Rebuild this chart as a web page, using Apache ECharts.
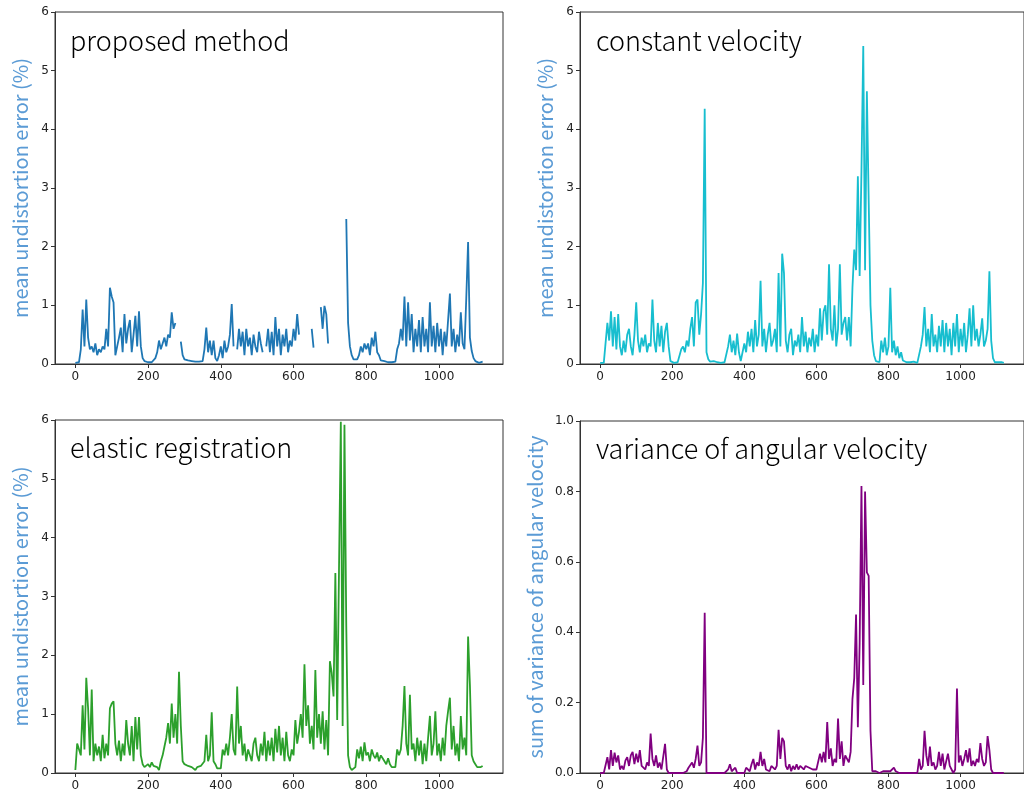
<!DOCTYPE html>
<html>
<head>
<meta charset="utf-8">
<script src="https://cdn.jsdelivr.net/npm/echarts@6/dist/echarts.min.js"></script>
<style>
  body { margin: 0; background: #fff; }
  #main { width: 1024px; height: 800px; }
</style>
</head>
<body>
<div id="main"></div>
<script>
// frame index step (one sample every 5 frames, 0..1120)
var STEP = 5;
var xTicks = [0, 200, 400, 600, 800, 1000];

var proposed = [
  0.02,0.04,0.03,0.25,0.93,0.3,1.1,0.45,0.25,0.3,0.2,0.35,0.15,0.25,0.2,0.3,0.25,0.6,0.3,1.3,
  1.15,1.05,0.15,0.3,0.45,0.62,0.2,0.85,0.35,0.6,0.75,0.2,0.5,0.82,0.3,0.9,0.3,0.1,0.05,0.03,
  0.03,0.02,0.03,0.05,0.1,0.2,0.4,0.25,0.35,0.45,0.3,0.5,0.45,0.88,0.6,0.7,null,null,0.38,0.15,
  0.08,0.05,0.06,0.04,0.05,0.03,0.04,0.03,0.04,0.03,0.05,0.25,0.62,0.2,0.4,0.15,0.4,0.1,0.05,0.15,
  0.3,0.1,0.4,0.2,0.3,0.5,1.02,0.3,null,0.25,0.6,0.3,0.55,0.15,0.6,0.3,0.45,0.15,0.5,0.3,
  0.2,0.55,0.35,0.2,null,0.3,0.6,0.2,0.55,0.15,0.8,0.3,0.6,0.15,0.5,0.3,0.6,0.2,0.4,0.3,
  0.6,0.4,0.85,0.5,null,null,null,null,null,null,0.6,0.28,null,null,null,0.97,0.6,0.99,0.85,0.35,
  null,null,null,null,null,null,null,null,null,2.47,0.7,0.3,0.15,0.08,0.05,0.08,0.15,0.3,0.2,0.35,
  0.25,0.35,0.15,0.45,0.3,0.55,0.2,0.15,0.06,0.04,0.05,0.04,0.03,0.04,0.03,0.05,0.04,0.25,0.35,0.6,
  0.4,1.15,0.3,1.05,0.4,0.85,0.2,0.6,0.3,0.75,0.2,0.8,0.3,0.6,0.2,1.05,0.3,0.65,0.2,0.7,
  0.3,0.6,0.15,0.55,0.3,0.75,1.2,0.3,0.6,0.2,0.5,0.3,0.88,0.35,0.25,1.12,2.08,0.45,0.22,0.1,
  0.05,0.03,0.02,0.03,0.04
];

var constantVelocity = [
  0.02,0.03,0.02,0.03,0.7,0.4,0.9,0.3,0.8,0.25,0.85,0.3,0.15,0.4,0.2,0.5,0.6,0.3,0.15,0.5,
  1.05,0.4,0.2,0.45,0.3,0.5,0.2,0.35,0.3,1.1,0.4,0.2,0.7,0.3,0.65,0.2,0.55,0.7,0.3,0.05,
  0.03,0.02,0.04,0.03,0.05,0.25,0.3,0.2,0.4,0.3,0.6,0.8,0.3,1.05,1.1,0.5,0.85,1.38,4.35,0.2,
  0.08,0.04,0.03,0.05,0.02,0.03,0.04,0.02,0.05,0.03,0.04,0.3,0.5,0.2,0.4,0.15,0.52,0.2,0.05,0.04,
  0.35,0.2,0.55,0.3,0.6,0.2,0.75,0.3,0.5,1.42,0.3,0.6,0.2,0.5,0.7,0.3,0.4,0.6,0.2,1.55,
  0.3,1.88,1.55,0.4,0.2,0.5,0.6,0.15,0.4,0.3,0.5,0.2,0.8,0.3,0.55,0.2,0.45,0.3,0.6,0.2,
  0.5,0.3,0.95,0.4,0.9,1.0,0.5,1.7,0.6,0.4,1.0,0.3,0.6,1.7,0.5,0.7,0.8,0.4,0.8,0.3,
  1.3,1.95,1.6,3.2,1.5,3.3,5.42,1.6,4.65,2.8,1.0,0.4,0.15,0.05,0.02,0.03,0.4,0.2,0.45,0.15,
  0.3,1.3,0.2,0.4,0.15,0.3,0.1,0.2,0.06,0.04,0.03,0.05,0.03,0.02,0.04,0.03,0.02,0.05,0.3,0.5,
  0.97,0.3,0.6,0.2,0.85,0.3,0.5,0.2,0.65,0.3,0.75,0.2,0.7,0.3,0.6,0.15,0.7,0.3,0.85,0.2,
  0.6,0.3,0.7,0.2,0.5,0.95,0.3,1.0,0.4,0.6,0.3,0.5,0.78,0.3,0.4,0.6,1.58,0.4,0.1,0.03,
  0.02,0.03,0.02,0.03,0.02
];

var elasticRegistration = [
  0.05,0.5,0.5,0.3,1.15,0.4,1.62,1.1,0.3,1.42,0.2,0.5,0.3,0.45,0.2,0.65,0.25,0.5,0.3,1.1,
  1.18,1.22,0.5,0.3,0.55,0.2,0.5,0.3,0.9,0.5,0.3,0.8,0.2,0.95,0.4,0.95,0.3,0.15,0.1,0.12,
  0.15,0.1,0.18,0.12,0.15,0.1,0.05,0.2,0.3,0.45,0.6,0.85,0.5,1.18,0.6,1.0,0.5,1.72,0.8,0.2,
  0.15,0.18,0.12,0.15,0.1,0.12,0.05,0.1,0.08,0.12,0.1,0.2,0.65,0.2,0.3,1.03,0.2,0.15,0.08,0.1,
  0.08,0.4,0.3,0.5,0.3,0.6,1.0,0.4,0.3,1.47,0.5,0.8,0.3,0.5,0.2,0.4,0.3,0.2,0.5,0.6,
  0.3,0.2,0.5,0.3,0.7,0.2,0.55,0.3,0.6,0.2,0.75,0.35,0.8,0.3,0.6,0.2,0.7,0.3,0.2,0.4,
  0.3,0.9,0.5,0.7,1.0,0.6,1.85,0.8,1.15,0.5,0.8,0.4,1.75,0.6,1.0,0.5,1.05,0.4,0.9,0.3,
  1.9,1.7,1.3,3.4,0.9,3.45,5.97,0.8,5.92,2.5,0.3,0.1,0.05,0.05,0.1,0.4,0.25,0.45,0.2,0.52,
  0.3,0.35,0.2,0.4,0.3,0.25,0.35,0.2,0.3,0.25,0.2,0.15,0.25,0.15,0.1,0.12,0.1,0.4,0.3,0.4,
  0.8,1.48,0.5,0.3,1.33,0.4,0.5,0.2,0.6,0.3,0.55,0.15,0.5,0.2,0.6,0.97,0.3,0.5,1.05,0.3,
  0.5,0.2,0.6,0.3,0.8,1.05,1.28,0.4,0.8,0.3,0.5,0.2,0.97,0.4,0.6,0.3,2.32,1.5,0.3,0.2,
  0.15,0.1,0.08,0.1,0.12
];

var angularVariance = [
  0,0,0,0,0.045,0.01,0.065,0.02,0.058,0.03,0.05,0.01,0.02,0.01,0.035,0.045,0.02,0.05,0.06,0.025,
  0.055,0.03,0.065,0.02,0.015,0.01,0.03,0.02,0.112,0.04,0.02,0.05,0.015,0.03,0.01,0.015,0.083,0.01,0,0,
  0,0,0,0,0,0,0,0,0.005,0.015,0.01,0.03,0.015,0.04,0.078,0.02,0.03,0.1,0.455,0,
  0,0,0,0,0,0,0,0,0,0,0,0.01,0.025,0.005,0,0.015,0,0,0,0,
  0,0.015,0.01,0.005,0.025,0.04,0.01,0.03,0.02,0.06,0.02,0.04,0.01,0.015,0.005,0.02,0.015,0.01,0.02,0.123,
  0.04,0.1,0.09,0.02,0.01,0.025,0.005,0.02,0.01,0.025,0.01,0.02,0.025,0.01,0.02,0.025,0.015,0.02,0.01,0.005,
  0.01,0.005,0.055,0.03,0.06,0.03,0.145,0.04,0.07,0.02,0.04,0.03,0.155,0.04,0.09,0.02,0.05,0.04,0.03,0.06,
  0.21,0.27,0.45,0.13,0.37,0.815,0.25,0.8,0.57,0.56,0.12,0.005,0,0.005,0,0,0,0.005,0,0.005,
  0.008,0.005,0,0.015,0.005,0,0,0,0,0,0,0,0,0,0,0,0,0.04,0.01,0.02,
  0.12,0.05,0.02,0.075,0.02,0.03,0.01,0.02,0.06,0.02,0.055,0.01,0.005,0.055,0.02,0.01,0,0.01,0.24,0.03,
  0.05,0.02,0.04,0.065,0.03,0.07,0.02,0.035,0.02,0.04,0.03,0.085,0.04,0.02,0.03,0.105,0.065,0.01,0,0,
  0,0,0,0,0
];

var panels = [
  { title: 'proposed method', data: proposed, color: '#1f77b4', yName: 'mean undistortion error (%)', yMax: 6, yStep: 1 },
  { title: 'constant velocity', data: constantVelocity, color: '#17becf', yName: 'mean undistortion error (%)', yMax: 6, yStep: 1 },
  { title: 'elastic registration', data: elasticRegistration, color: '#2ca02c', yName: 'mean undistortion error (%)', yMax: 6, yStep: 1 },
  { title: 'variance of angular velocity', data: angularVariance, color: '#800080', yName: 'sum of variance of angular velocity', yMax: 1, yStep: 0.2 }
];

var boxes = [
  { left: 55, top: 12, width: 448, height: 352 },
  { left: 580, top: 12, width: 448, height: 352 },
  { left: 55, top: 420, width: 448, height: 353 },
  { left: 580, top: 421, width: 448, height: 352 }
];

function toPoints(vals) {
  return vals.map(function (v, i) { return [i * STEP, v]; });
}

var grids = [], xAxes = [], yAxes = [], series = [], texts = [];
panels.forEach(function (p, i) {
  var b = boxes[i];
  grids.push({
    left: b.left, top: b.top, width: b.width, height: b.height,
    show: true, borderColor: '#333', borderWidth: 1, backgroundColor: 'transparent'
  });
  xAxes.push({
    type: 'value', gridIndex: i, min: -56, max: 1176,
    axisLine: { onZero: false, lineStyle: { color: '#333' } },
    axisTick: { show: true, length: 4, customValues: xTicks, lineStyle: { color: '#333' } },
    axisLabel: {
      customValues: xTicks, color: '#222', fontSize: 12, fontFamily: 'DejaVu Sans', margin: 7,
      formatter: function (v) { return String(v); }
    },
    splitLine: { show: false }
  });
  yAxes.push({
    type: 'value', gridIndex: i, min: 0, max: p.yMax, interval: p.yStep,
    name: p.yName, nameLocation: 'middle', nameGap: p.yMax === 1 ? 35 : 25,
    nameTextStyle: { color: '#5b9bd5', fontSize: 20, fontFamily: 'Noto Sans CJK SC' },
    axisLine: { show: true, onZero: false, lineStyle: { color: '#333' } },
    axisTick: { show: true, length: 4, lineStyle: { color: '#333' } },
    axisLabel: {
      color: '#222', fontSize: 12, fontFamily: 'DejaVu Sans', margin: 6,
      formatter: p.yMax === 1 ? function (v) { return v.toFixed(1); } : function (v) { return String(v); }
    },
    splitLine: { show: false }
  });
  series.push({
    type: 'line', xAxisIndex: i, yAxisIndex: i,
    data: toPoints(p.data),
    showSymbol: false, connectNulls: false, animation: false,
    lineStyle: { color: p.color, width: 1.8 }
  });
  texts.push({
    type: 'text', x: b.left + (i % 2 === 0 ? 15 : 16), y: b.top + (i < 2 ? 29 : 28),
    style: {
      text: p.title, fill: '#000', font: '300 27px "Noto Sans CJK SC"',
      textVerticalAlign: 'middle', verticalAlign: 'middle'
    }
  });
});

var myChart = echarts.init(document.getElementById('main'));
myChart.setOption({
  animation: false,
  grid: grids,
  xAxis: xAxes,
  yAxis: yAxes,
  series: series,
  graphic: texts
});
</script>
</body>
</html>
